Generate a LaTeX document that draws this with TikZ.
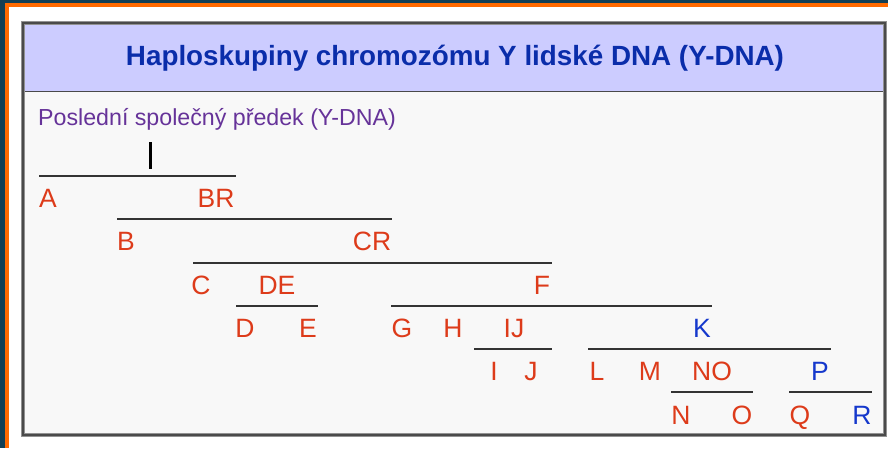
\documentclass[tikz,border=0pt]{standalone}
\usepackage{fontspec}
\setmainfont{Liberation Sans}
\definecolor{teal}{HTML}{123F55}
\definecolor{orng}{HTML}{FF6A00}
\definecolor{hdr}{HTML}{CCCCFF}
\definecolor{body}{HTML}{F8F8F8}
\definecolor{frm}{HTML}{4A4A4A}
\definecolor{ttl}{HTML}{0A2DAA}
\definecolor{sub}{HTML}{663399}
\definecolor{lred}{HTML}{DD3B1A}
\definecolor{lblue}{HTML}{1538CC}
\definecolor{ln}{HTML}{333333}
\tikzset{
  lbl/.style={anchor=base,inner sep=0pt,text=lred,font=\fontsize{26.5}{28}\selectfont},
  lblb/.style={lbl,text=lblue},
  bar/.style={draw=ln,line width=2.4pt}
}
\begin{document}
\begin{tikzpicture}[x=1pt,y=-1pt]
\useasboundingbox (0,0) rectangle (888,448);
\fill[white] (0,0) rectangle (888,448);
\fill[teal] (0,0) rectangle (888,3);
\fill[teal] (0,0) rectangle (5,448);
\fill[orng] (5,3) rectangle (888,7);
\fill[orng] (5,3) rectangle (9,448);
% table
\fill[body] (23,23) rectangle (885,435);
\fill[hdr] (23,23) rectangle (885,91);
\draw[draw=frm,line width=1pt] (23,91) -- (885,91);
\draw[draw=frm!60,line width=3.5pt] (23,23) rectangle (885,435);
\draw[draw=frm,line width=2pt] (23,23) rectangle (885,435);
\node[anchor=base,inner sep=0pt,text=ttl,font=\bfseries\fontsize{27.8}{30}\selectfont] (title) at (455,65) {Haploskupiny chromozómu Y lidské DNA (Y-DNA)};
\node[anchor=base west,inner sep=0pt,text=sub,font=\fontsize{23.2}{25}\selectfont] (subt) at (38,125) {Poslední společný předek (Y-DNA)};
% root bar
\coordinate (rt) at (150.5,142);
\coordinate (rb) at (150.5,169);
\draw[draw=black,line width=2.6pt] (rt) -- (rb);
% labels
\node[lbl] (A) at (48,207) {A};
\node[lbl] (BR) at (216,207) {BR};
\node[lbl] (B) at (126,250) {B};
\node[lbl] (CR) at (372,250) {CR};
\node[lbl] (C) at (201,294) {C};
\node[lbl] (DE) at (277,294) {DE};
\node[lbl] (F) at (542,294) {F};
\node[lbl] (D) at (245,337) {D};
\node[lbl] (E) at (308,337) {E};
\node[lbl] (G) at (402,337) {G};
\node[lbl] (H) at (453,337) {H};
\node[lbl] (IJ) at (514,337) {IJ};
\node[lblb] (K) at (702,337) {K};
\node[lbl] (I) at (494,380) {I};
\node[lbl] (J) at (531,380) {J};
\node[lbl] (L) at (597,380) {L};
\node[lbl] (M) at (650,380) {M};
\node[lbl] (NO) at (712,380) {NO};
\node[lblb] (P) at (820,380) {P};
\node[lbl] (N) at (681,424) {N};
\node[lbl] (O) at (742,424) {O};
\node[lbl] (Q) at (800,424) {Q};
\node[lblb] (R) at (862,424) {R};
% bars
\coordinate (a1) at (39,176); \coordinate (a2) at (236,176);
\coordinate (b1) at (117,219); \coordinate (b2) at (392,219);
\coordinate (c1) at (193,263); \coordinate (c2) at (552,263);
\coordinate (d1) at (236,306); \coordinate (d2) at (318,306);
\coordinate (f1) at (391,306); \coordinate (f2) at (712,306);
\coordinate (i1) at (474,349); \coordinate (i2) at (552,349);
\coordinate (k1) at (588,349); \coordinate (k2) at (831,349);
\coordinate (n1) at (671,392); \coordinate (n2) at (753,392);
\coordinate (p1) at (789,392); \coordinate (p2) at (872,392);
\draw[bar] (a1) -- (a2);
\draw[bar] (b1) -- (b2);
\draw[bar] (c1) -- (c2);
\draw[bar] (d1) -- (d2);
\draw[bar] (f1) -- (f2);
\draw[bar] (i1) -- (i2);
\draw[bar] (k1) -- (k2);
\draw[bar] (n1) -- (n2);
\draw[bar] (p1) -- (p2);
\end{tikzpicture}
\end{document}
